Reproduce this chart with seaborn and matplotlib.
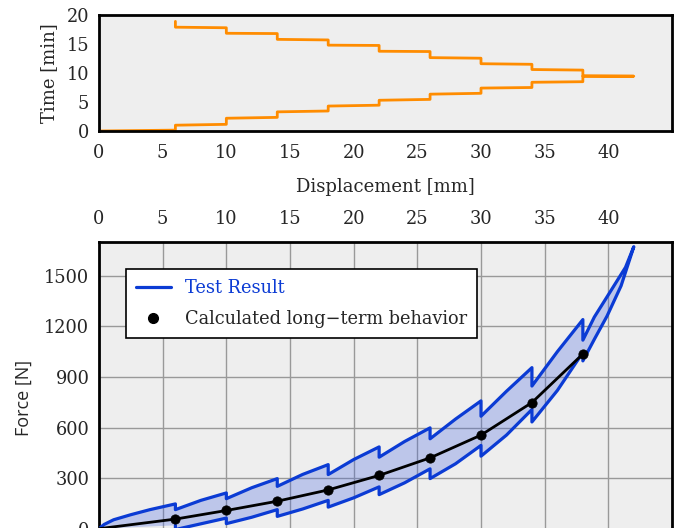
import numpy as np
import pandas as pd
import matplotlib
matplotlib.use('Agg')
import matplotlib.pyplot as plt
from matplotlib.lines import Line2D
import seaborn as sns

# Time history of the stepped displacement (top plot)
top_disp = [0, 6, 6, 10, 10, 14, 14, 18, 18, 22, 22, 26, 26, 30, 30, 34, 34, 38, 38, 42,
            38, 38, 34, 34, 30, 30, 26, 26, 22, 22, 18, 18, 14, 14, 10, 10, 6, 6]
top_time = [0, 0.15, 1.0, 1.15, 2.2, 2.35, 3.3, 3.45, 4.3, 4.45, 5.3, 5.45, 6.35, 6.5, 7.4, 7.5,
            8.4, 8.5, 9.45, 9.45, 9.5, 10.5, 10.6, 11.5, 11.6, 12.55, 12.65, 13.7, 13.75, 14.75,
            14.8, 15.7, 15.8, 16.8, 16.85, 17.8, 17.9, 18.9]

# Test result loop (loading branch then unloading branch)
loop_disp = [0, 0.4, 1.15, 2.5, 4, 6, 6, 8, 10, 10, 12, 14, 14, 16, 18, 18, 20, 22, 22, 24, 26,
             26, 28, 30, 30, 32, 34, 34, 36, 38, 38, 38.9, 39.9, 41.35, 42,
             41, 39.9, 38.9, 38, 38, 36, 34, 34, 32, 30, 30, 28, 26, 26, 24, 22, 22, 20, 18,
             18, 16, 14, 14, 12, 10, 10, 8, 6, 6]
loop_force = [0, 25, 53, 83, 113, 147, 113, 168, 212, 178, 243, 297, 251, 322, 380, 321, 410, 485,
              424, 517, 598, 533, 650, 758, 667, 815, 955, 846, 1050, 1240, 1118, 1255, 1375, 1550, 1672,
              1440, 1261, 1123, 995, 1045, 820, 633, 707, 555, 430, 494, 385, 297, 355, 272, 202,
              248, 183, 128, 168, 117, 73, 113, 68, 30, 63, 29, -5, 20]

# Calculated long-term behavior
calc_disp = [0, 6, 10, 14, 18, 22, 26, 30, 34, 38]
calc_force = [0, 57, 108, 163, 230, 316, 420, 555, 748, 1036]

x_ticks = [0, 5, 10, 15, 20, 25, 30, 35, 40]
time_ticks = [0, 5, 10, 15, 20]
force_ticks = [0, 300, 600, 900, 1200, 1500]

orange = '#ff8c00'
blue = '#0b3bd4'
fill_blue = '#4060e0'
bg = '#eeeeee'

sns.set_style('white')
plt.rcParams['font.family'] = ['DejaVu Serif']
plt.rcParams['font.size'] = 12.5

fig = plt.figure(figsize=(6.8, 5.28), dpi=100)
W, H = 680, 528
ax_top = fig.add_axes([99 / W, (H - 131) / H, 573 / W, 116 / H])
ax_bot = fig.add_axes([99 / W, (H - 554) / H, 573 / W, 312 / H])

# top plot
df_top = pd.DataFrame({'disp': top_disp, 'time': top_time})
sns.lineplot(data=df_top, x='disp', y='time', sort=False, estimator=None,
             color=orange, lw=2, ax=ax_top)
ax_top.set_facecolor(bg)
ax_top.set_xlim(0, 45)
ax_top.set_ylim(0, 20)
ax_top.set_xticks(x_ticks)
ax_top.set_yticks(time_ticks)
ax_top.tick_params(length=0, labelsize=12.8)
ax_top.tick_params(axis='x', pad=9)
ax_top.tick_params(axis='y', pad=7)
ax_top.set_xlabel('Displacement [mm]', fontsize=13, labelpad=12)
ax_top.set_ylabel('Time [min]', fontsize=13, labelpad=6)

# bottom plot
ax_bot.set_facecolor(bg)
ax_bot.set_xlim(0, 45)
ax_bot.set_ylim(-150, 1700)
ax_bot.set_xticks(x_ticks + [45])
ax_bot.set_xticklabels([str(t) for t in x_ticks] + [''])
ax_bot.set_yticks(force_ticks)
ax_bot.grid(True, color='#999999', lw=1)
ax_bot.set_axisbelow(True)
ax_bot.xaxis.tick_top()
ax_bot.tick_params(length=0, labelsize=12.8)
ax_bot.tick_params(axis='x', pad=10)
ax_bot.tick_params(axis='y', pad=7)

ax_bot.fill(loop_disp, loop_force, color=fill_blue, alpha=0.28, lw=0, zorder=2)
df_loop = pd.DataFrame({'disp': loop_disp, 'force': loop_force})
sns.lineplot(data=df_loop, x='disp', y='force', sort=False, estimator=None,
             color=blue, lw=2.3, ax=ax_bot, zorder=3)
df_calc = pd.DataFrame({'disp': calc_disp, 'force': calc_force})
sns.lineplot(data=df_calc, x='disp', y='force', sort=False, estimator=None,
             color='black', lw=2, ax=ax_bot, zorder=4)
sns.scatterplot(data=df_calc.iloc[1:], x='disp', y='force', color='black', s=45,
                edgecolor='black', ax=ax_bot, zorder=5)
ax_bot.set_xlabel('')
ax_bot.set_ylabel('Force [N]', fontsize=13, labelpad=8, family=['Open Sans', 'DejaVu Sans'])

for ax in (ax_top, ax_bot):
    for s in ax.spines.values():
        s.set_visible(True)
        s.set_color('black')
        s.set_linewidth(2)

handles = [Line2D([], [], color=blue, lw=2.3),
           Line2D([], [], color='black', marker='o', ls='none', markersize=7)]
leg = ax_bot.legend(handles, ['Test Result', 'Calculated long\u2212term behavior'],
                    loc='upper left', bbox_to_anchor=(0.047, 0.913), borderaxespad=0,
                    frameon=True, fancybox=False, edgecolor='black', framealpha=1,
                    fontsize=12.8, handlelength=2, labelspacing=0.75, borderpad=0.55)
leg.get_frame().set_linewidth(1.2)
leg.get_texts()[0].set_color(blue)

fig.savefig('out.png', dpi=100)
